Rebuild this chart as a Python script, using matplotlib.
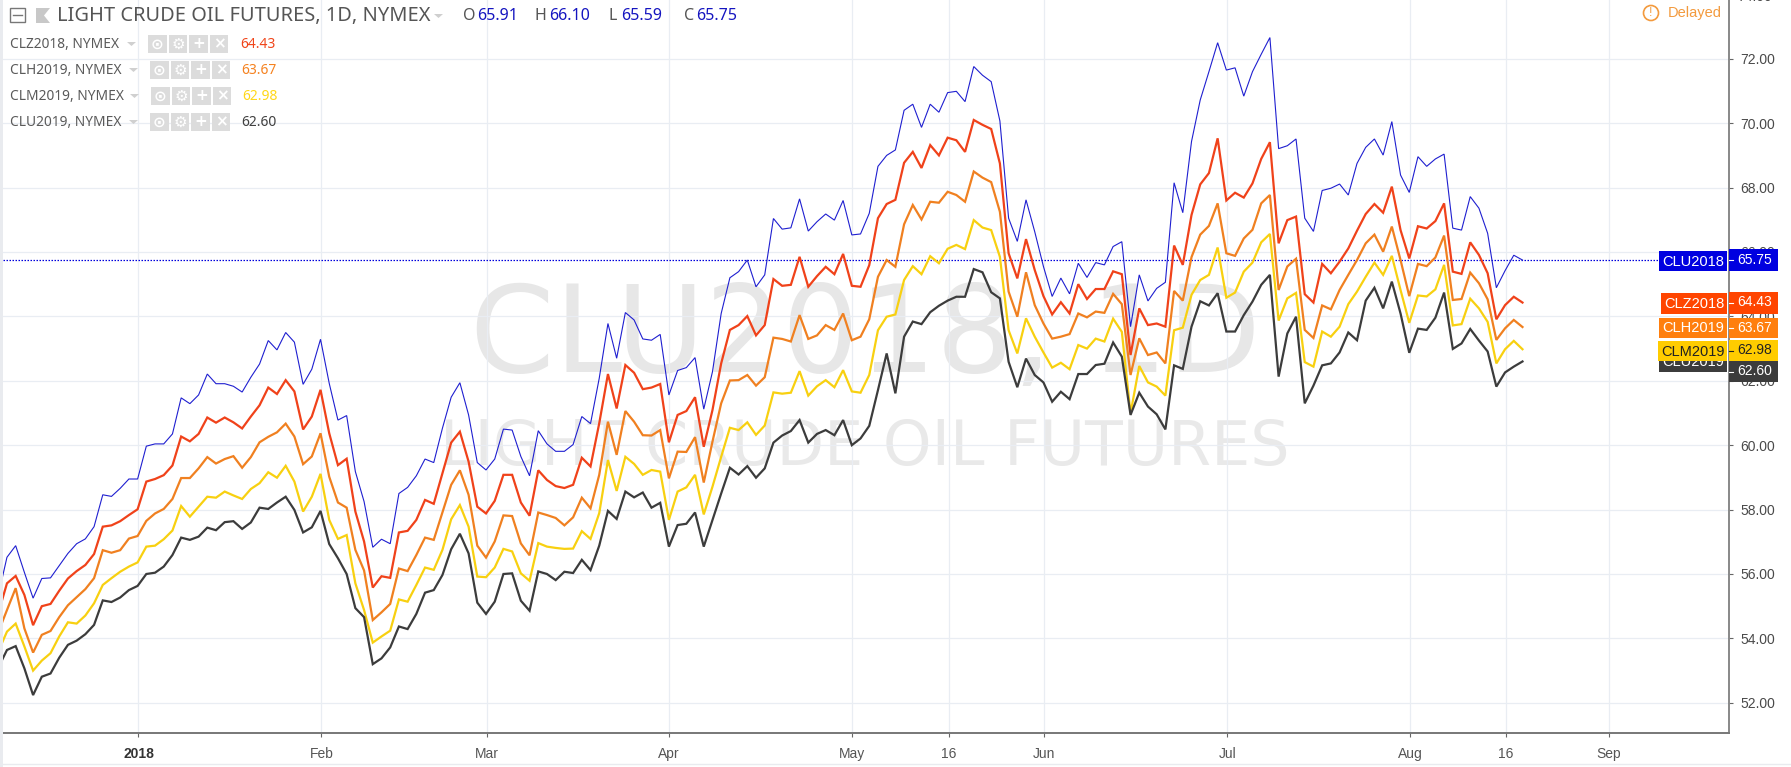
import matplotlib
matplotlib.use('Agg')
import matplotlib.pyplot as plt
from matplotlib.patches import Rectangle, Circle, Polygon

clu2018 = [55.33,56.52,56.88,56.05,55.25,55.86,55.88,56.26,56.64,56.94,57.09,57.47,58.46,58.41,58.66,58.95,58.95,59.97,60.04,60.04,60.35,61.47,61.29,61.56,62.21,61.91,61.91,61.83,61.65,62.11,62.52,63.25,62.96,63.50,63.20,
61.89,62.36,63.29,61.92,60.78,60.92,59.18,58.25,56.83,57.08,56.94,58.50,58.69,59.05,59.57,59.46,60.53,61.49,61.94,60.94,59.46,59.23,59.57,60.50,60.47,59.65,59.05,60.45,60.04,59.81,59.81,60.02,60.89,60.67,62.08,
63.78,62.70,64.12,63.89,63.30,63.26,63.44,61.56,62.32,62.41,62.72,61.12,62.28,64.09,65.20,65.39,65.75,64.92,65.29,67.04,66.71,66.75,67.65,66.65,66.94,67.18,66.99,67.60,66.53,
66.56,67.20,68.66,69.00,69.17,70.40,70.59,69.87,70.59,70.34,70.95,70.99,70.67,71.76,71.49,71.29,70.07,67.05,66.33,67.62,66.63,65.55,64.62,65.19,64.70,65.65,65.21,65.67,65.60,66.17,66.32,63.68,65.29,
64.48,64.87,65.06,68.15,67.22,69.43,70.72,71.60,72.50,71.65,71.72,70.84,71.60,72.14,72.66,69.21,69.30,69.51,67.05,66.64,67.91,
67.98,68.11,67.77,68.75,69.25,69.51,69.01,70.05,68.39,67.85,68.96,68.66,68.89,69.04,66.74,66.68,67.72,67.36,66.58,64.89,65.42,65.90,65.75]

clz2018 = [54.78,55.71,55.94,55.35,54.41,55.00,55.07,55.48,55.86,56.09,56.28,56.62,57.47,57.51,57.64,57.83,58.01,58.87,58.95,59.07,59.37,60.27,60.12,60.35,60.86,60.70,60.86,60.71,60.52,60.89,61.24,61.79,61.59,62.02,61.67,
60.49,60.89,61.72,60.37,59.38,59.58,57.94,57.01,55.58,55.93,55.88,57.29,57.34,57.68,58.30,58.18,59.13,60.08,60.42,59.49,58.09,57.88,58.27,59.08,59.08,58.22,57.81,59.22,58.92,58.73,58.67,58.77,59.61,59.34,60.68,
62.21,61.14,62.49,62.25,61.74,61.79,61.90,60.09,60.94,61.06,61.49,59.95,61.09,62.54,63.58,63.73,64.01,63.41,63.73,65.16,64.95,64.98,65.85,64.92,65.25,65.54,65.31,65.94,64.95,
64.92,65.59,67.05,67.49,67.62,68.77,69.11,68.61,69.32,69.00,69.55,69.47,69.11,70.10,69.95,69.82,68.75,65.96,65.18,66.40,65.44,64.63,64.06,64.44,64.09,65.00,64.54,64.85,64.85,65.40,65.31,62.80,64.25,
63.73,63.78,63.68,66.20,65.60,67.15,68.10,68.45,69.53,67.60,67.84,67.69,68.13,68.89,69.41,66.27,66.99,67.10,64.69,64.43,65.63,
65.34,65.70,66.11,66.66,67.18,67.49,67.22,68.03,66.68,65.80,66.80,66.73,66.96,67.51,65.39,65.32,66.30,65.91,65.34,63.91,64.35,64.61,64.43]

clh2019 = [54.19,54.88,55.56,54.31,53.56,54.11,54.23,54.66,55.03,55.28,55.53,55.87,56.74,56.66,56.74,57.10,57.18,57.65,57.88,58.02,58.33,58.98,58.98,59.28,59.63,59.43,59.57,59.66,59.30,59.63,60.09,60.26,60.40,60.67,60.27,
59.41,59.65,60.37,59.02,58.22,58.06,56.75,56.11,54.57,54.81,55.07,56.17,56.09,56.59,57.13,57.06,57.91,58.77,59.22,58.46,56.88,56.51,57.01,57.82,57.80,56.95,56.58,57.91,57.83,57.74,57.51,57.76,58.37,58.04,59.08,
60.73,59.70,61.06,60.73,60.31,60.30,60.47,58.97,59.80,59.79,60.25,58.84,60.11,61.30,62.01,62.02,62.18,61.85,62.11,63.34,63.30,63.22,64.04,63.30,63.41,63.73,63.58,64.09,63.26,
63.37,63.91,65.23,65.75,65.54,66.86,67.46,67.01,67.56,67.53,67.87,67.77,67.56,68.50,68.31,68.17,67.25,64.77,63.99,65.37,64.35,63.78,63.31,63.37,63.45,64.09,63.97,64.15,64.11,64.70,64.38,62.18,63.32,
62.80,62.88,62.54,64.79,64.49,65.84,66.54,66.81,67.51,65.96,65.88,66.42,66.69,67.51,67.77,64.82,65.55,65.79,63.58,63.33,64.34,
64.22,64.82,65.29,65.75,66.27,66.54,66.01,66.79,65.75,64.63,65.63,65.56,65.83,66.51,64.51,64.54,65.36,65.03,64.53,63.27,63.63,63.89,63.67]

clm2019 = [53.59,54.21,54.46,53.75,53.00,53.31,53.54,54.06,54.50,54.46,54.71,55.09,55.66,55.87,56.07,56.23,56.36,56.85,56.88,57.08,57.35,58.11,57.78,58.09,58.40,58.37,58.56,58.44,58.33,58.64,58.82,59.16,58.99,59.36,58.87,
57.94,58.40,59.11,57.68,57.09,57.21,55.71,54.88,53.87,54.06,54.24,55.21,55.14,55.66,56.20,56.13,56.75,57.70,58.14,57.47,55.92,55.90,56.20,56.78,56.70,56.02,55.79,56.96,56.85,56.81,56.78,56.79,57.33,57.09,57.89,
59.54,58.58,59.64,59.42,59.08,59.23,59.18,57.68,58.56,58.69,59.08,57.85,58.71,59.64,60.54,60.47,60.71,60.32,60.61,61.64,61.60,61.63,62.30,61.54,61.83,62.02,61.80,62.33,61.67,
61.63,62.18,63.57,63.99,64.06,65.13,65.56,65.31,65.87,65.65,66.10,66.22,66.09,66.99,66.76,66.68,65.85,63.57,62.85,63.94,63.37,62.88,62.41,62.56,62.36,63.11,63.00,63.31,63.22,63.93,63.52,60.99,62.46,
61.95,61.82,61.54,63.57,63.65,64.67,65.13,65.29,66.14,64.58,64.74,65.39,65.67,66.30,66.56,63.87,64.56,64.73,62.58,62.44,63.53,
63.37,63.68,64.38,64.77,65.23,65.67,65.29,65.88,64.82,63.80,64.65,64.62,64.84,65.60,63.72,63.76,64.55,64.25,63.83,62.54,62.98,63.24,62.98]

clu2019 = [53.09,53.64,53.76,53.07,52.24,52.81,52.91,53.40,53.80,53.93,54.13,54.42,55.18,55.13,55.27,55.50,55.63,56.00,56.04,56.23,56.59,57.13,57.06,57.16,57.44,57.36,57.61,57.64,57.40,57.60,58.06,58.02,58.22,58.40,57.99,
57.29,57.45,57.96,56.93,56.49,56.00,54.94,54.66,53.20,53.38,53.72,54.37,54.29,54.76,55.42,55.50,55.97,56.77,57.25,56.64,55.11,54.76,55.14,56.00,56.02,55.17,54.86,56.08,56.00,55.81,56.07,56.03,56.44,56.12,56.88,
57.96,57.71,58.56,58.38,58.53,58.06,58.21,56.85,57.52,57.56,57.91,56.85,57.68,58.50,59.30,59.09,59.35,58.99,59.28,60.08,60.30,60.44,60.78,60.08,60.35,60.47,60.31,60.78,60.00,
60.21,60.60,61.71,62.85,61.61,63.37,63.84,63.76,64.13,64.33,64.49,64.61,64.61,65.47,65.37,64.75,64.56,62.59,61.80,62.69,62.18,61.95,61.35,61.66,61.43,62.21,62.21,62.49,62.53,63.19,62.75,60.94,61.63,
61.20,60.96,60.49,62.48,62.37,63.68,64.47,64.34,64.72,63.53,63.53,64.04,64.46,64.98,65.29,62.13,63.47,63.99,61.30,61.85,62.48,
62.54,62.88,63.50,63.26,64.49,64.89,64.25,65.08,64.09,62.87,63.62,63.58,63.96,64.74,62.99,63.16,63.61,63.25,62.91,61.82,62.26,62.44,62.60]

series_names = ['CLU2018', 'CLZ2018', 'CLH2019', 'CLM2019', 'CLU2019']
series_colors = ['#1f1fd0', '#f0421a', '#f08020', '#f8d010', '#3c3c3c']
series_widths = [0.8, 1.6, 1.6, 1.6, 1.6]
last_labels = ['65.75', '64.43', '63.67', '62.98', '62.60']
ohlc = [('O', '65.91'), ('H', '66.10'), ('L', '65.59'), ('C', '65.75')]
month_ticks = [16.1, 37.1, 56.1, 77.0, 98.0, 109.1, 120.1, 141.1, 162.1, 173.1, 184.9]
month_labels = ['2018', 'Feb', 'Mar', 'Apr', 'May', '16', 'Jun', 'Jul', 'Aug', '16', 'Sep']
price_ticks = [52, 54, 56, 58, 60, 62, 64, 66, 68, 70, 72]

W, H = 1791, 767
fig = plt.figure(figsize=(W/100, H/100), dpi=100, facecolor='white')
ax = fig.add_axes([3/W, 1-733/H, 1726/W, 733/H])
grid_c = '#e9edf3'
ax.set_xlim(0.545, 198.71)
ax.set_ylim(51.062, 73.826)
ax.set_xticks(month_ticks)
ax.set_xticklabels(month_labels, fontfamily='Liberation Sans', fontsize=10, color='#555555')
ax.get_xticklabels()[0].set_fontweight('bold')
ax.get_xticklabels()[0].set_color('#333333')
ax.set_yticks(price_ticks)
ax.set_yticklabels(['%.2f' % t for t in price_ticks], fontfamily='Liberation Sans', fontsize=10, color='#4a4a4a')
ax.yaxis.tick_right()
ax.tick_params(axis='x', length=3, width=0.8, color='#666666', pad=7)
ax.tick_params(axis='y', length=3, width=0.8, color='#666666', pad=5)
ax.grid(True, color=grid_c, lw=0.9, zorder=0)
ax.set_axisbelow(True)
for s in ['top', 'left']:
    ax.spines[s].set_visible(False)
ax.spines['bottom'].set_color('#777777')
ax.spines['bottom'].set_linewidth(1.4)
ax.spines['right'].set_color('#888888')
ax.spines['right'].set_linewidth(1.4)

all_series = [clu2018, clz2018, clh2019, clm2019, clu2019]
for vals, col, lw, name in zip(all_series, series_colors, series_widths, series_names):
    ax.plot(range(len(vals)), vals, color=col, lw=lw, label=name, zorder=3, solid_joinstyle='miter')
ax.axhline(float(last_labels[0]), color='#0000dd', lw=0.9, ls=(0, (1.2, 1.2)), zorder=2.5)

# overlay in picture pixels for chart furniture
ov = fig.add_axes([0, 0, 1, 1], facecolor='none')
ov.set_xlim(0, W); ov.set_ylim(H, 0); ov.axis('off')
wm = fig.add_axes([0, 0, 1, 1], facecolor='none', zorder=-1)
ax.set_zorder(1); ax.patch.set_alpha(0); ov.set_zorder(2)
wm.set_xlim(0, W); wm.set_ylim(H, 0); wm.axis('off')
wm.text(865, 372, 'CLU2018, 1D', fontsize=87.3, color='#e7e7e7', ha='center', va='baseline', family='DejaVu Sans')
wm.text(865, 465, 'LIGHT CRUDE OIL FUTURES', fontsize=44.6, color='#e9e9e9', ha='center', va='baseline', family='DejaVu Sans')

def box(x0, y0, x1, y1, c, z=5):
    ov.add_patch(Rectangle((x0, y0), x1-x0, y1-y0, fc=c, ec='none', zorder=z))

ov.add_patch(Rectangle((0, 0), 3, H, fc='#e9ebef', ec='none', zorder=4))
ov.plot([3, W], [764, 764], color='#e9ebef', lw=1.0, zorder=4)

# price labels on the right
rows = [
    (1659, 251, 271, 249, 271, '#0000e0', 'white', 6),
    (1661, 293, 314, 292, 314, '#ff4500', 'white', 6),
    (1659, 318, 338, 318, 338, '#ff7f0e', 'white', 7),
    (1658, 341, 361, 340, 361, '#ffcc00', '#222222', 8),
    (1659, 352, 372, 361, 382, '#3c3c3c', 'white', 6),
]
order = [0, 1, 2, 4, 3]
for k in order:
    x0, ny0, ny1, vy0, vy1, c, tc, z = rows[k]
    box(x0, ny0, 1727, ny1, c, z)
    box(1729, vy0, 1778, vy1, c, z)
    ov.text((x0+1727)/2, (ny0+ny1)/2+0.5, series_names[k], color=tc, fontsize=10.5, ha='center', va='center',
            family='Liberation Sans', zorder=z+0.1)
    ov.text(1754.5, (vy0+vy1)/2-0.5, last_labels[k], color=tc, fontsize=10, ha='center', va='center',
            family='Liberation Sans', zorder=z+0.1)
    ov.plot([1729, 1733], [(vy0+vy1)/2]*2, color=tc, lw=0.8, zorder=z+0.1)
ov.text(1754.5, -3, '74.00', color='#4a4a4a', fontsize=10, ha='center', va='center', family='Liberation Sans', zorder=4)

# header
title_c = '#555555'
ov.add_patch(Rectangle((10, 8), 15, 14, fc='white', ec='#777777', lw=1, zorder=5))
ov.plot([13, 22], [15, 15], color='#777777', lw=1, zorder=6)
ov.add_patch(Polygon([(36, 8), (50, 8), (44, 15.5), (50, 23), (36, 23)], fc='#c8c8c8', ec='none', zorder=5))
ov.text(57, 16, 'LIGHT CRUDE OIL FUTURES, 1D, NYMEX', color=title_c, fontsize=14.4, ha='left', va='center',
        family='Noto Sans', zorder=5)
ov.add_patch(Polygon([(434, 14), (443, 14), (438.5, 18)], fc='#cfcfcf', ec='none', zorder=5))
for (lab, val), xl, xv in zip(ohlc, [463, 535, 609, 684], [477, 549, 621, 696]):
    ov.text(xl, 16, lab, color=title_c, fontsize=11.5, ha='left', va='center', family='Noto Sans', zorder=5)
    ov.text(xv, 16, val, color='#1515c0', fontsize=11.5, ha='left', va='center', family='Noto Sans', zorder=5)

# legend rows
leg_names = series_names[1:]
leg_vals = last_labels[1:]
leg_cols = ['#f0451a', '#f58220', '#ffd81a', '#404040']
leg_y = [44, 70, 96, 122]
leg_box = [148, 150, 151, 150]
leg_val = [240, 241, 242, 241]
glyphs = ['\u2299', '\u2699', '+', '\u00d7']
for name, val, col, y, bx, vx in zip(leg_names, leg_vals, leg_cols, leg_y, leg_box, leg_val):
    ov.text(10, y, name + ', NYMEX', color='#5a5a5a', fontsize=9.9, ha='left', va='center', family='Noto Sans', zorder=5)
    ov.add_patch(Polygon([(bx-21, y-2), (bx-12, y-2), (bx-16.5, y+2)], fc='#d0d0d0', ec='none', zorder=5))
    for j, g in enumerate(glyphs):
        x0 = bx + j*20.6
        box(x0, y-9, x0+18.6, y+9, '#dcdcdc')
        ov.text(x0+9.3, y, g, color='white', fontsize=11, ha='center', va='center', family='DejaVu Sans',
                fontweight='bold', zorder=6)
    ov.text(vx, y, val, color=col, fontsize=10, ha='left', va='center', family='Noto Sans', zorder=5)

# delayed notice
ov.add_patch(Circle((1651, 13), 7.5, fc='white', ec='#f39a3d', lw=1.2, zorder=5))
ov.text(1651, 13, '!', color='#f39a3d', fontsize=9, ha='center', va='center', family='Liberation Sans', zorder=6)
ov.text(1668, 13, 'Delayed', color='#f39a3d', fontsize=10.5, ha='left', va='center', family='Liberation Sans', zorder=5)

fig.savefig('out.png', dpi=100, facecolor='white')
